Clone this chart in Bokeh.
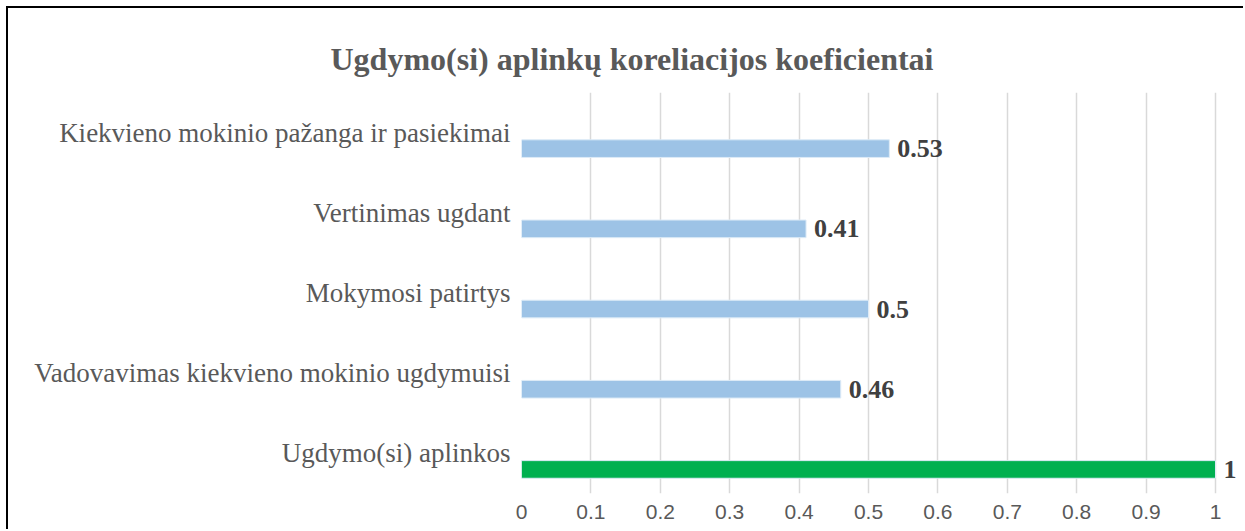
from bokeh.plotting import figure
from bokeh.models import ColumnDataSource, FactorRange, LabelSet, Range1d, FixedTicker, Title
from bokeh.transform import dodge
from bokeh.embed import file_html
from bokeh.resources import INLINE

categories = ["Kiekvieno mokinio pažanga ir pasiekimai", "Vertinimas ugdant",
              "Mokymosi patirtys", "Vadovavimas kiekvieno mokinio ugdymuisi",
              "Ugdymo(si) aplinkos"]
values = [0.53, 0.41, 0.5, 0.46, 1.0]
value_labels = ["0.53", "0.41", "0.5", "0.46", "1"]
colors = ["#9DC3E6", "#9DC3E6", "#9DC3E6", "#9DC3E6", "#00B050"]
x_ticks = [0, 0.1, 0.2, 0.3, 0.4, 0.5, 0.6, 0.7, 0.8, 0.9, 1]

src = ColumnDataSource(dict(cat=categories, val=values, lab=value_labels, col=colors))

p = figure(width=1237, height=523, output_backend="svg", toolbar_location=None,
           y_range=FactorRange(factors=list(reversed(categories))),
           x_range=Range1d(0, 1.0432),
           min_border_left=513, min_border_top=84, min_border_right=0, min_border_bottom=38,
           styles={"border-left": "2px solid black", "border-top": "2px solid black",
                   "margin-left": "6px", "margin-top": "6px"})

p.title = Title(text="Ugdymo(si) aplinkų koreliacijos  koeficientai", align="left",
                offset=-191, text_font="Liberation Serif", text_font_size="32px",
                text_font_style="bold", text_color="#595959", standoff=32,
                text_line_height=0.8)

p.hbar(y=dodge("cat", -0.2, range=p.y_range), right="val", left=0, height=0.22,
       fill_color="col", line_color="#DDEBF7", line_width=1, source=src)

labels = LabelSet(x="val", y=dodge("cat", -0.2, range=p.y_range), text="lab", source=src,
                  x_offset=8, text_baseline="middle", text_font="Liberation Serif",
                  text_font_size="26px", text_font_style="bold", text_color="#404040")
p.add_layout(labels)

p.outline_line_color = None
p.background_fill_color = "white"
p.border_fill_color = "white"

p.ygrid.grid_line_color = None
p.xgrid.grid_line_color = "#D9D9D9"
p.xgrid.grid_line_width = 1.5
p.xaxis.ticker = FixedTicker(ticks=x_ticks)
p.xaxis.major_label_overrides = {0: "0", 1: "1"}
p.xaxis.axis_line_color = None
p.xaxis.major_tick_line_color = None
p.xaxis.minor_tick_line_color = None
p.xaxis.major_label_standoff = 5
p.xaxis.major_label_text_font = "Liberation Sans"
p.xaxis.major_label_text_font_size = "21px"
p.xaxis.major_label_text_color = "#595959"

p.yaxis.axis_line_color = None
p.yaxis.major_tick_line_color = None
p.yaxis.minor_tick_line_color = None
p.yaxis.major_label_standoff = 5
p.yaxis.major_label_text_font = "Liberation Serif"
p.yaxis.major_label_text_font_size = "27px"
p.yaxis.major_label_text_color = "#595959"

open("out.html", "w").write(file_html(p, INLINE))
